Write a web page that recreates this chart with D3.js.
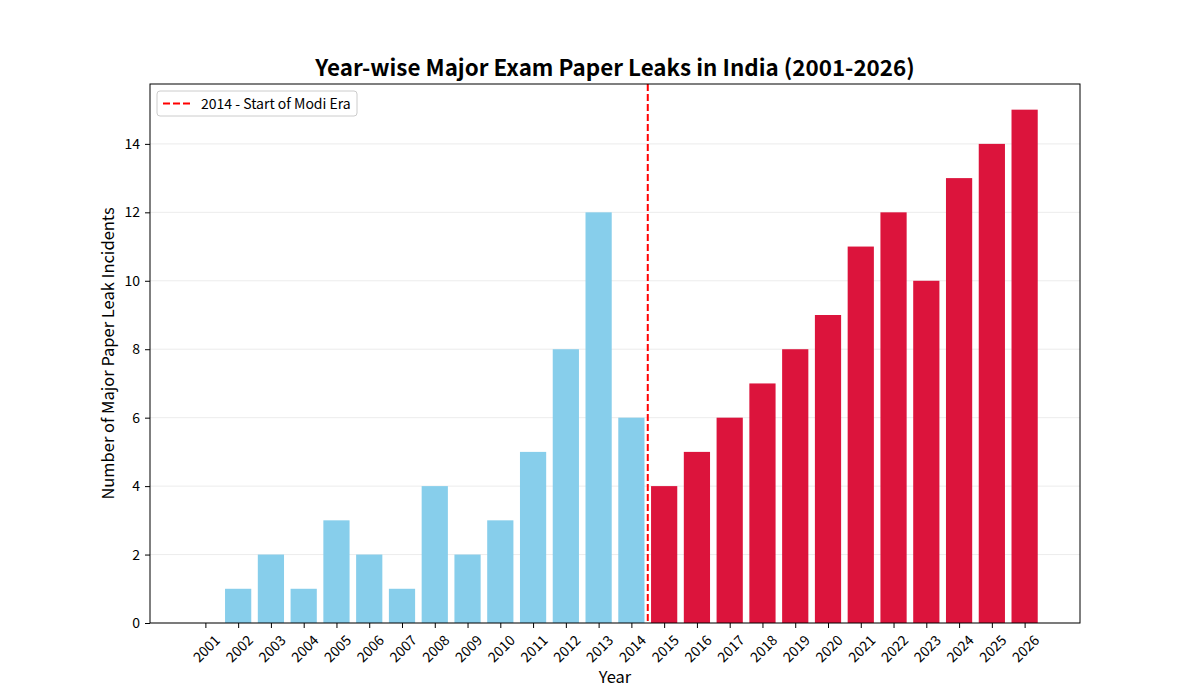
<!DOCTYPE html>
<html>
<head>
<meta charset="utf-8">
<script src="https://cdn.jsdelivr.net/npm/d3@7"></script>
<style>
  body { margin: 0; background: #fff; }
  text { font-family: "Noto Sans CJK JP", "Noto Sans", sans-serif; fill: #000; }
</style>
</head>
<body>
<div id="chart"></div>
<script>
// data
var years = ["2001","2002","2003","2004","2005","2006","2007","2008","2009","2010","2011","2012","2013",
             "2014","2015","2016","2017","2018","2019","2020","2021","2022","2023","2024","2025","2026"];
var leaks = [0,1,2,1,3,2,1,4,2,3,5,8,12,6,4,5,6,7,8,9,11,12,10,13,14,15];
var yTicks = [0,2,4,6,8,10,12,14];
var markerYear = "2014";

var W = 1200, H = 700,
    m = [84, 120, 77, 150]; // top right bottom left

var iw = W - m[1] - m[3],
    ih = H - m[0] - m[2];

var svg = d3.select("#chart").append("svg")
    .attr("width", W)
    .attr("height", H);

var g = svg.append("g")
    .attr("transform", "translate(" + m[3] + "," + m[0] + ")");

// matplotlib style: categorical positions 0..n-1, bars 0.8 wide, 5% margins
var n = years.length;
var lo = -0.4, hi = n - 1 + 0.4, pad = (hi - lo) * 0.05;
var x = d3.scaleLinear().domain([lo - pad, hi + pad]).range([0, iw]);
var y = d3.scaleLinear().domain([0, d3.max(leaks) * 1.05]).range([ih, 0]);

// grid
g.selectAll(".grid")
    .data(yTicks)
  .enter().append("line")
    .attr("x1", 0).attr("x2", iw)
    .attr("y1", function(d) { return y(d); })
    .attr("y2", function(d) { return y(d); })
    .attr("stroke", "#b0b0b0")
    .attr("stroke-opacity", 0.3)
    .attr("stroke-width", 0.8);

var splitIdx = years.indexOf(markerYear);

// bars
g.selectAll(".bar")
    .data(leaks)
  .enter().append("rect")
    .attr("x", function(d, i) { return x(i - 0.4); })
    .attr("width", x(0.8) - x(0))
    .attr("y", function(d) { return y(d); })
    .attr("height", function(d) { return y(0) - y(d); })
    .attr("fill", function(d, i) { return i <= splitIdx ? "#87CEEB" : "#DC143C"; });

// marker line between 2014 and 2015
g.append("line")
    .attr("x1", x(splitIdx + 0.5)).attr("x2", x(splitIdx + 0.5))
    .attr("y1", 0).attr("y2", ih)
    .attr("stroke", "red")
    .attr("stroke-width", 2)
    .attr("stroke-dasharray", "7,3");

// axes
var xAxis = d3.axisBottom(x)
    .tickValues(d3.range(n))
    .tickFormat(function(i) { return years[i]; })
    .tickSize(5).tickPadding(4);

var gx = g.append("g")
    .attr("transform", "translate(0," + ih + ")")
    .call(xAxis);
gx.select(".domain").remove();
// rotated labels centred under the tick, like matplotlib rotation=45
gx.selectAll("text")
    .style("font-size", "14px")
    .attr("text-anchor", "middle")
    .attr("dominant-baseline", "central")
    .attr("dy", null)
    .attr("y", 0).attr("x", 0)
    .attr("transform", "translate(0,25) rotate(-45)");

var gy = g.append("g")
    .call(d3.axisLeft(y).tickValues(yTicks).tickSize(5).tickPadding(5));
gy.select(".domain").remove();
gy.selectAll("text").style("font-size", "14px");

// frame
g.append("rect")
    .attr("width", iw).attr("height", ih)
    .attr("fill", "none")
    .attr("stroke", "#000")
    .attr("stroke-width", 1);

// labels
svg.append("text")
    .attr("x", m[3] + iw / 2).attr("y", 76)
    .attr("text-anchor", "middle")
    .style("font-size", "22.4px")
    .style("font-weight", "bold")
    .text("Year-wise Major Exam Paper Leaks in India (2001-2026)");

svg.append("text")
    .attr("x", m[3] + iw / 2).attr("y", 683)
    .attr("text-anchor", "middle")
    .style("font-size", "16.5px")
    .text("Year");

svg.append("text")
    .attr("transform", "translate(114," + (m[0] + ih / 2) + ") rotate(-90)")
    .attr("text-anchor", "middle")
    .style("font-size", "16.5px")
    .text("Number of Major Paper Leak Incidents");

// legend
var lg = g.append("g").attr("transform", "translate(7,7)");
lg.append("rect")
    .attr("width", 200).attr("height", 25)
    .attr("rx", 3)
    .attr("fill", "#fff").attr("fill-opacity", 0.8)
    .attr("stroke", "#ccc");
lg.append("line")
    .attr("x1", 6).attr("x2", 34)
    .attr("y1", 12.5).attr("y2", 12.5)
    .attr("stroke", "red").attr("stroke-width", 2)
    .attr("stroke-dasharray", "7,3");
lg.append("text")
    .attr("x", 44).attr("y", 17.5)
    .style("font-size", "14px")
    .text(markerYear + " - Start of Modi Era");
</script>
</body>
</html>
